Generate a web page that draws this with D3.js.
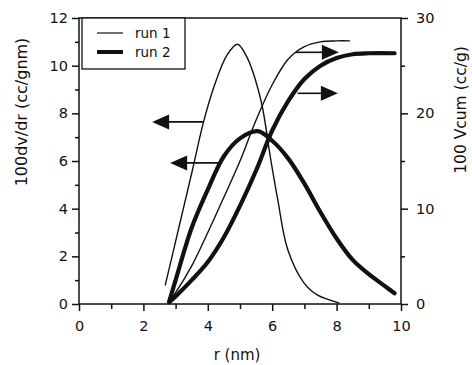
<!DOCTYPE html>
<html>
<head>
<meta charset="utf-8">
<script src="https://cdn.jsdelivr.net/npm/d3@7"></script>
<style>
  body { margin: 0; background: #fff; }
  svg text { font-family: "DejaVu Sans", "Liberation Sans", Arial, sans-serif; fill: #111; }
</style>
</head>
<body>
<div id="chart"></div>
<script>
const W = 472, H = 365;
const margin = { top: 18, right: 71, bottom: 61, left: 79 };
const width = W - margin.left - margin.right;
const height = H - margin.top - margin.bottom;

// run 1, 100 dv/dr (left axis)
const run1Dv = [
  [2.68, 0.8], [3.1, 3.2], [3.52, 5.6], [3.86, 7.6], [4.2, 9.15], [4.6, 10.45],
  [4.92, 10.9], [5.2, 10.4], [5.64, 8.6], [5.95, 6.1], [6.17, 4.4], [6.48, 2.3],
  [6.98, 0.9], [7.4, 0.38], [8.07, 0.05]
];
// run 1, 100 Vcum (right axis)
const run1Vc = [
  [2.8, 0.3], [3.0, 1.2], [3.5, 4.0], [4.0, 7.5], [4.5, 11.2], [5.0, 15.0],
  [5.5, 19.3], [6.0, 23.0], [6.5, 25.7], [7.0, 27.0], [7.5, 27.5], [8.0, 27.6], [8.4, 27.6]
];
// run 2, 100 dv/dr (left axis)
const run2Dv = [
  [2.8, 0.1], [3.0, 1.0], [3.5, 3.2], [4.0, 4.8], [4.5, 6.2], [5.0, 6.95],
  [5.55, 7.25], [6.0, 6.85], [6.5, 6.1], [7.0, 5.05], [7.5, 3.85], [8.0, 2.75],
  [8.5, 1.85], [9.0, 1.25], [9.5, 0.75], [9.8, 0.45]
];
// run 2, 100 Vcum (right axis)
const run2Vc = [
  [2.8, 0.2], [3.0, 0.8], [3.5, 2.5], [4.0, 4.4], [4.5, 7.0], [5.0, 10.3],
  [5.5, 14.0], [6.0, 18.2], [6.5, 21.3], [7.0, 23.6], [7.5, 25.0], [8.0, 25.8],
  [8.5, 26.2], [9.0, 26.3], [9.8, 26.3]
];

// arrows pointing from a curve to its axis
const arrows = [
  { x0: 3.86, x1: 2.27, y: 7.64, axis: "left" },
  { x0: 4.33, x1: 2.83, y: 5.92, axis: "left" },
  { x0: 6.73, x1: 8.07, y: 26.4, axis: "right" },
  { x0: 6.79, x1: 8.04, y: 22.1, axis: "right" }
];

const xTicks = [0, 2, 4, 6, 8, 10];
const yLeftTicks = [0, 2, 4, 6, 8, 10, 12];
const yRightTicks = [0, 10, 20, 30];

const svg = d3.select("#chart").append("svg")
  .attr("width", W).attr("height", H);
const g = svg.append("g").attr("transform", `translate(${margin.left},${margin.top})`);

const x = d3.scaleLinear().domain([0, 10]).range([0, width]);
const yL = d3.scaleLinear().domain([0, 12]).range([height, 0]);
const yR = d3.scaleLinear().domain([0, 30]).range([height, 0]);

// frame
g.append("rect").attr("width", width).attr("height", height)
  .attr("fill", "none").attr("stroke", "#111").attr("stroke-width", 1.5);

function styleAxis(sel) {
  sel.select(".domain").remove();
  sel.selectAll("line").attr("stroke", "#111").attr("stroke-width", 1.5);
  sel.selectAll("text").style("font-size", "14.5px").attr("fill", "#111");
}

// bottom axis
g.append("g").attr("transform", `translate(0,${height})`)
  .call(d3.axisBottom(x).tickValues(d3.range(1, 10, 2)).tickSize(5).tickFormat(""))
  .call(styleAxis);
g.append("g").attr("transform", `translate(0,${height})`)
  .call(d3.axisBottom(x).tickValues(xTicks).tickSize(7).tickPadding(10).tickFormat(d3.format("d")))
  .call(styleAxis);

// left axis
g.append("g")
  .call(d3.axisLeft(yL).tickValues(d3.range(1, 12, 2)).tickSize(4).tickFormat(""))
  .call(styleAxis);
g.append("g")
  .call(d3.axisLeft(yL).tickValues(yLeftTicks).tickSize(7).tickPadding(4).tickFormat(d3.format("d")))
  .call(styleAxis);

// right axis
g.append("g").attr("transform", `translate(${width},0)`)
  .call(d3.axisRight(yR).tickValues([5, 15, 25]).tickSize(4).tickFormat(""))
  .call(styleAxis);
g.append("g").attr("transform", `translate(${width},0)`)
  .call(d3.axisRight(yR).tickValues(yRightTicks).tickSize(7).tickPadding(8).tickFormat(d3.format("d")))
  .call(styleAxis);

// curves
const lineL = d3.line().x(d => x(d[0])).y(d => yL(d[1])).curve(d3.curveCatmullRom);
const lineR = d3.line().x(d => x(d[0])).y(d => yR(d[1])).curve(d3.curveCatmullRom);

const series = [
  { data: run1Dv, line: lineL, w: 1.4 },
  { data: run1Vc, line: lineR, w: 1.4 },
  { data: run2Dv, line: lineL, w: 4.2 },
  { data: run2Vc, line: lineR, w: 4.2 }
];
g.append("g").selectAll("path").data(series).join("path")
  .attr("d", d => d.line(d.data))
  .attr("fill", "none").attr("stroke", "#111")
  .attr("stroke-width", d => d.w)
  .attr("stroke-linecap", "round").attr("stroke-linejoin", "round");

// arrows
const ag = g.append("g");
arrows.forEach(a => {
  const ys = a.axis === "left" ? yL : yR;
  const px0 = x(a.x0), px1 = x(a.x1), py = ys(a.y);
  const dir = Math.sign(px1 - px0);
  const headLen = 17, headHalf = 7.5;
  ag.append("line")
    .attr("x1", px0).attr("x2", px1 - dir * headLen + dir * 2)
    .attr("y1", py).attr("y2", py)
    .attr("stroke", "#111").attr("stroke-width", 1.6);
  ag.append("path")
    .attr("d", `M${px1},${py} L${px1 - dir * headLen},${py - headHalf} L${px1 - dir * headLen},${py + headHalf} Z`)
    .attr("fill", "#111");
});

// legend
const lg = g.append("g").attr("transform", "translate(3,0)");
lg.append("rect").attr("width", 103).attr("height", 51)
  .attr("fill", "#fff").attr("stroke", "#111").attr("stroke-width", 1.3);
const legendItems = [{ label: "run 1", w: 1.2 }, { label: "run 2", w: 4 }];
legendItems.forEach((d, i) => {
  const yy = 15 + i * 19;
  lg.append("line").attr("x1", 15).attr("x2", 41).attr("y1", yy).attr("y2", yy)
    .attr("stroke", "#111").attr("stroke-width", d.w);
  lg.append("text").attr("x", 53).attr("y", yy + 5)
    .style("font-size", "13.5px").text(d.label);
});

// axis titles
svg.append("text")
  .attr("transform", `translate(237,360)`)
  .attr("text-anchor", "middle").style("font-size", "15px").text("r (nm)");
svg.append("text")
  .attr("transform", `translate(27,112) rotate(-90)`)
  .attr("text-anchor", "middle").style("font-size", "16px").text("100dv/dr (cc/gnm)");
svg.append("text")
  .attr("transform", `translate(466,110) rotate(-90)`)
  .attr("text-anchor", "middle").style("font-size", "15.5px").text("100 Vcum (cc/g)");
</script>
</body>
</html>
